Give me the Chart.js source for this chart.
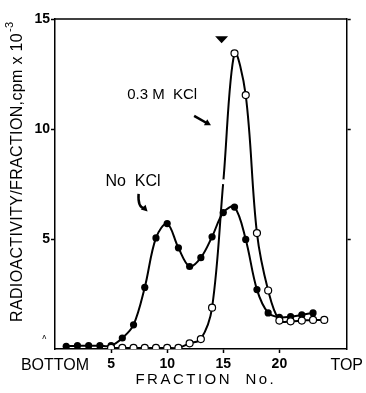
<!DOCTYPE html>
<html>
  <head>
    <meta charset="UTF-8" />
    <title>Fraction profile</title>
    <script src="https://cdn.jsdelivr.net/npm/chart.js"></script>
    <style>
      body {
        margin: 0;
        background-color: white;
      }
      canvas {
        display: block;
      }
    </style>
  </head>
  <body>
    <canvas id="chart" width="366" height="393"></canvas>

    <script>
      // fraction numbers and radioactivity (cpm x 10^-3)
      const fractionsNoKCl = [1, 2, 3, 4, 5, 6, 7, 8, 9, 10, 11, 12, 13, 14, 15, 16, 17, 18, 19, 20, 21, 22, 23];
      const valuesNoKCl = [0.12, 0.15, 0.15, 0.15, 0.15, 0.5, 1.1, 2.8, 5.05, 5.7, 4.6, 3.75, 4.15, 5.1, 6.2, 6.45, 4.98, 2.7, 1.64, 1.44, 1.47, 1.55, 1.64];
      const fractionsKCl = [5, 6, 7, 8, 9, 10, 11, 12, 13, 14, 15, 16, 17, 18, 19, 20, 21, 22, 23, 24];
      const valuesKCl = [0.05, 0.05, 0.05, 0.05, 0.05, 0.05, 0.05, 0.26, 0.45, 1.88, 7.6, 13.44, 11.54, 5.27, 2.66, 1.29, 1.26, 1.29, 1.32, 1.32];

      const xTickValues = [0, 5, 10, 15, 20, 26];
      const xTickLabels = ["BOTTOM", "5", "10", "15", "20", "TOP"];
      const yTickValues = [5, 10, 15];

      const FONT = "'Liberation Sans', Arial, Helvetica, sans-serif";

      function toPoints(xs, ys) {
        return xs.map((x, i) => ({ x: x, y: ys[i] }));
      }

      function arrowHead(ctx, x1, y1, a) {
        ctx.beginPath();
        ctx.moveTo(x1, y1);
        ctx.lineTo(x1 - 7 * Math.cos(a - 0.5), y1 - 7 * Math.sin(a - 0.5));
        ctx.lineTo(x1 - 7 * Math.cos(a + 0.5), y1 - 7 * Math.sin(a + 0.5));
        ctx.closePath();
        ctx.fill();
      }

      const annotations = {
        id: "annotations",
        afterDraw(chart) {
          const ctx = chart.ctx;
          const x = chart.scales.x;
          const y = chart.scales.y;
          const area = chart.chartArea;
          ctx.save();
          ctx.fillStyle = "black";
          ctx.strokeStyle = "black";

          // top border of the frame
          ctx.lineWidth = 1.5;
          ctx.beginPath();
          ctx.moveTo(area.left, area.top);
          ctx.lineTo(area.right, area.top);
          ctx.stroke();

          // labels
          ctx.font = "15px " + FONT;
          ctx.textAlign = "center";
          ctx.textBaseline = "middle";
          ctx.fillText("0.3 M  KCl", x.getPixelForValue(9.55), y.getPixelForValue(11.55));
          ctx.font = "16px " + FONT;
          ctx.fillText("No  KCl", x.getPixelForValue(6.95), y.getPixelForValue(7.6));

          // arrow to 0.3 M KCl curve
          ctx.lineWidth = 2.5;
          let x0 = x.getPixelForValue(12.4), y0 = y.getPixelForValue(10.6);
          let x1 = x.getPixelForValue(13.9), y1 = y.getPixelForValue(10.17);
          ctx.beginPath();
          ctx.moveTo(x0, y0);
          ctx.lineTo(x1 - 3, y1 - 1.5);
          ctx.stroke();
          arrowHead(ctx, x1, y1, Math.atan2(y1 - y0, x1 - x0));

          // curved arrow to No KCl curve
          x0 = x.getPixelForValue(7.45); y0 = y.getPixelForValue(7.05);
          x1 = x.getPixelForValue(8.25); y1 = y.getPixelForValue(6.25);
          ctx.beginPath();
          ctx.moveTo(x0, y0);
          ctx.quadraticCurveTo(x0 - 1, y1 - 4, x1 - 3, y1 - 3);
          ctx.stroke();
          arrowHead(ctx, x1, y1, Math.PI / 4);

          // arrowhead marker above the peak
          const mx = x.getPixelForValue(14.85), my = y.getPixelForValue(14.08);
          ctx.beginPath();
          ctx.moveTo(mx - 6.5, my - 3);
          ctx.lineTo(mx + 6.5, my - 3);
          ctx.lineTo(mx, my + 4);
          ctx.closePath();
          ctx.fill();

          // stray mark left of the axis
          ctx.font = "8px " + FONT;
          ctx.fillText("\u028C", x.getPixelForValue(-0.96), y.getPixelForValue(0.56));

          // x axis title
          ctx.font = "15px " + FONT;
          ctx.letterSpacing = "2.5px";
          ctx.fillText("FRACTION  No.", (area.left + area.right) / 2 + 5, 380);

          // y axis title with superscript
          ctx.letterSpacing = "0.35px";
          ctx.font = "16px " + FONT;
          ctx.translate(18, 322);
          ctx.rotate(-Math.PI / 2);
          ctx.textAlign = "left";
          const main = "RADIOACTIVITY/FRACTION,cpm x 10";
          ctx.fillText(main, 0, 0);
          const w = ctx.measureText(main).width;
          ctx.font = "11px " + FONT;
          ctx.fillText("-3", w + 1, -8);
          ctx.restore();
        },
      };

      const chartCtx = document.getElementById("chart").getContext("2d");
      const chart = new Chart(chartCtx, {
        type: "line",
        data: {
          datasets: [
            {
              label: "0.3 M KCl",
              data: toPoints(fractionsKCl, valuesKCl),
              borderColor: "black",
              borderWidth: 2,
              tension: 0.35,
              pointRadius: (c) => (fractionsKCl[c.dataIndex] === 15 ? 2.5 : 3.5),
              pointBorderWidth: (c) => (fractionsKCl[c.dataIndex] === 15 ? 0 : 1.2),
              pointBackgroundColor: "white",
              pointBorderColor: "black",
            },
            {
              label: "No KCl",
              data: toPoints(fractionsNoKCl, valuesNoKCl),
              borderColor: "black",
              borderWidth: 2,
              tension: 0.35,
              pointRadius: 3.6,
              pointBorderWidth: 0,
              pointBackgroundColor: "black",
            },
          ],
        },
        options: {
          responsive: false,
          animation: false,
          layout: { padding: { top: 19, left: 0, right: 0, bottom: 0 } },
          plugins: {
            legend: { display: false },
            tooltip: { enabled: false },
          },
          scales: {
            x: {
              type: "linear",
              min: 0,
              max: 26,
              afterBuildTicks: (s) => {
                s.ticks = xTickValues.map((v) => ({ value: v }));
              },
              afterFit: (s) => {
                s.height = 44;
              },
              ticks: {
                autoSkip: false,
                maxRotation: 0,
                padding: 3,
                color: "black",
                callback: (v) => xTickLabels[xTickValues.indexOf(v)],
                font: (c) =>
                  c.tick && (c.tick.value === 0 || c.tick.value === 26)
                    ? { family: FONT, size: 16, weight: "normal" }
                    : { family: FONT, size: 14, weight: "bold" },
              },
              grid: {
                drawOnChartArea: false,
                tickLength: 4,
                tickWidth: 1.5,
                color: (c) =>
                  c.tick && (c.tick.value === 0 || c.tick.value === 26) ? "rgba(0,0,0,0)" : "black",
              },
              border: { color: "black", width: 1.5 },
            },
            y: {
              position: "left",
              min: 0,
              max: 15,
              afterBuildTicks: (s) => {
                s.ticks = yTickValues.map((v) => ({ value: v }));
              },
              afterFit: (s) => {
                s.width = 55;
              },
              ticks: {
                padding: 1,
                color: "black",
                font: { family: FONT, size: 14, weight: "bold" },
              },
              grid: { drawOnChartArea: false, tickLength: 4, tickWidth: 1.5, color: "black" },
              border: { color: "black", width: 1.5 },
            },
            yRight: {
              position: "right",
              min: 0,
              max: 15,
              afterBuildTicks: (s) => {
                s.ticks = yTickValues.map((v) => ({ value: v }));
              },
              afterFit: (s) => {
                s.width = 16;
              },
              ticks: { display: false },
              grid: { drawOnChartArea: false, tickLength: 4, tickWidth: 1.5, color: "black" },
              border: { color: "black", width: 1.5 },
            },
          },
        },
        plugins: [annotations],
      });
    </script>
  </body>
</html>
